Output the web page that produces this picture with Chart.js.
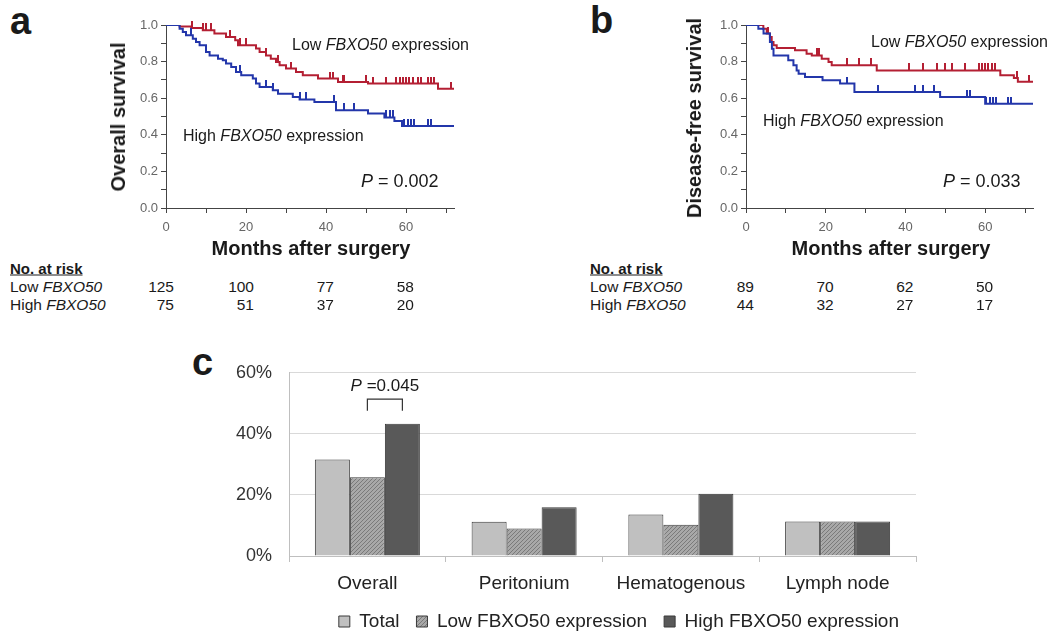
<!DOCTYPE html>
<html><head><meta charset="utf-8">
<script src="https://cdn.jsdelivr.net/npm/chart.js@4.4.1/dist/chart.umd.min.js"></script>
<style>
html,body{margin:0;padding:0;background:#fff;width:1058px;height:637px;overflow:hidden;font-family:'Liberation Sans',Arial,sans-serif;color:#1a1a1a;}
#wrap{position:relative;width:1058px;height:637px;}
.abs{position:absolute;white-space:nowrap;line-height:1;}
.rot{transform:translate(-50%,-50%) rotate(-90deg);}
.ctr{transform:translate(-50%,-50%);}
.vc{transform:translateY(-50%);}
canvas{position:absolute;}
</style></head><body>
<div id="wrap">
<canvas id="cA" width="370" height="230" style="left:100px;top:10px"></canvas>
<canvas id="cB" width="370" height="230" style="left:680px;top:10px"></canvas>
<canvas id="cC" width="700" height="300" style="left:230px;top:345px"></canvas>

<div class="abs" style="left:10px;top:2px;font-size:38px;font-weight:bold">a</div>
<div class="abs" style="left:590px;top:1px;font-size:38px;font-weight:bold">b</div>
<div class="abs" style="left:192px;top:343px;font-size:38px;font-weight:bold">c</div>

<div class="abs rot" style="left:118px;top:117px;font-size:20px;font-weight:bold">Overall survival</div>
<div class="abs rot" style="left:694px;top:118px;font-size:20px;font-weight:bold">Disease-free survival</div>
<div class="abs ctr" style="left:311px;top:248px;font-size:20px;font-weight:bold">Months after surgery</div>
<div class="abs ctr" style="left:891px;top:248px;font-size:20px;font-weight:bold">Months after surgery</div>

<div class="abs vc" style="left:292px;top:45px;font-size:16px">Low <i>FBXO50</i> expression</div>
<div class="abs vc" style="left:183px;top:136px;font-size:16px">High <i>FBXO50</i> expression</div>
<div class="abs vc" style="left:361px;top:181px;font-size:18px"><i>P</i> = 0.002</div>
<div class="abs vc" style="left:871px;top:42px;font-size:16px">Low <i>FBXO50</i> expression</div>
<div class="abs vc" style="left:763px;top:121px;font-size:16px">High <i>FBXO50</i> expression</div>
<div class="abs vc" style="left:943px;top:181px;font-size:18px"><i>P</i> = 0.033</div>

<div class="abs vc" style="left:10px;top:268px;font-size:15px;font-weight:bold;text-decoration:underline">No. at risk</div>
<div class="abs vc" style="left:10px;top:287px;font-size:15.5px">Low <i>FBXO50</i></div>
<div class="abs vc" style="left:10px;top:305px;font-size:15.5px">High <i>FBXO50</i></div>
<div class="abs vc" style="left:590px;top:268px;font-size:15px;font-weight:bold;text-decoration:underline">No. at risk</div>
<div class="abs vc" style="left:590px;top:287px;font-size:15.5px">Low <i>FBXO50</i></div>
<div class="abs vc" style="left:590px;top:305px;font-size:15.5px">High <i>FBXO50</i></div>
</div>
<script>
// ---------- Data: panel a (overall survival) ----------
const aLowT  = [0, 3.4, 6.3, 9.2, 12.1, 15, 17.3, 18, 22.5, 23.4, 25, 26.2, 27.5, 28.4, 30, 32.5, 34.2, 38, 43, 50.5, 68, 72];
const aLowS  = [1, 0.992, 0.984, 0.971, 0.953, 0.934, 0.916, 0.889, 0.871, 0.852, 0.834, 0.816, 0.798, 0.78, 0.762, 0.743, 0.725, 0.707, 0.689, 0.68, 0.652, 0.652];
const aLowCensor = [6.5, 9.2, 10, 11.3, 15.9, 18.4, 20, 25, 28, 31.3, 40.9, 41.7, 44.2, 44.6, 50, 51.7, 55, 57.5, 58.4, 59.2, 60, 60.8, 61.7, 63, 63.8, 65.5, 66.3, 67.1, 71.3];
const aHighT = [0, 3.4, 4.2, 5.0, 6.7, 7.5, 8.4, 10.0, 10.9, 13, 14.2, 15, 16.3, 17.5, 18.8, 21.7, 22.5, 23.4, 26.7, 28, 31.7, 33.4, 37.1, 42.5, 50.5, 54.6, 57.1, 59, 72];
const aHighS = [1, 0.98, 0.962, 0.944, 0.925, 0.907, 0.889, 0.852, 0.834, 0.816, 0.807, 0.789, 0.771, 0.743, 0.725, 0.707, 0.68, 0.661, 0.643, 0.625, 0.607, 0.593, 0.579, 0.534, 0.516, 0.495, 0.475, 0.448, 0.448];
const aHighCensor = [6.3, 18.4, 25, 26.7, 33.4, 35, 42, 44.6, 47.1, 55, 55.9, 56.7, 59.6, 60.5, 61.3, 62.1, 65.5, 66.3];

// ---------- Data: panel b (disease-free survival) ----------
const bLowT  = [0, 4.35, 5.2, 6.0, 6.45, 6.9, 7.7, 12.3, 15.2, 16.5, 19, 20.7, 21.5, 32.8, 63.8, 67.2, 68.2, 72];
const bLowS  = [1, 0.98, 0.953, 0.934, 0.907, 0.89, 0.875, 0.862, 0.843, 0.834, 0.816, 0.798, 0.78, 0.752, 0.725, 0.71, 0.69, 0.69];
const bLowCensor = [5.6, 17.8, 18.2, 25.3, 28.3, 31.3, 40.8, 44.5, 47.9, 50, 51.7, 55, 58.4, 59.2, 60, 60.8, 61.6, 62.5, 68, 70.9];
const bHighT = [0, 3.1, 4.4, 6.0, 6.5, 6.9, 10.6, 11.9, 12.7, 13.2, 14.8, 19.2, 23.6, 27.2, 48.7, 60, 72];
const bHighS = [1, 0.98, 0.953, 0.907, 0.87, 0.834, 0.807, 0.78, 0.752, 0.734, 0.716, 0.698, 0.68, 0.634, 0.607, 0.57, 0.57];
const bHighCensor = [25.3, 33.2, 42.5, 44.3, 47.2, 55.4, 56.3, 60.3, 61.1, 62, 62.8, 65.8, 66.6];

// ---------- Numbers at risk ----------
const riskMonths = [0, 20, 40, 60];
const riskALow  = [125, 100, 77, 58];
const riskAHigh = [75, 51, 37, 20];
const riskBLow  = [89, 70, 62, 50];
const riskBHigh = [44, 32, 27, 17];

// ---------- Data: panel c (recurrence) ----------
const categories = ['Overall', 'Peritonium', 'Hematogenous', 'Lymph node'];
const totalPct = [31.6, 11.2, 13.6, 11.3];
const lowPct   = [25.8, 9.0, 10.2, 11.3];
const highPct  = [43.3, 16.0, 20.4, 11.3];
const yTicksC  = [0, 20, 40, 60];

const RED = '#b41f33', BLUE = '#2336aa', AX = '#444';
Chart.defaults.font.family = "'Liberation Sans', Arial, sans-serif";
Chart.defaults.animation = false;
Chart.defaults.events = [];

function stepPts(t, s) { return t.map((m, i) => ({x: m, y: s[i]})); }
function survAt(t, s, m) { let v = s[0]; for (let i = 0; i < t.length; i++) { if (t[i] <= m) v = s[i]; } return v; }
function censorPts(t, s, c) { return c.map(m => ({x: m, y: survAt(t, s, m)})); }
function tickImg(color) {
  const c = document.createElement('canvas'); c.width = 2; c.height = 14;
  const g = c.getContext('2d'); g.fillStyle = color; g.fillRect(0, 0, 2, 7); return c;
}

function kmChart(id, lowT, lowS, lowC, highT, highS, highC, padRight) {
  return new Chart(document.getElementById(id), {
    type: 'scatter',
    data: { datasets: [
      {data: stepPts(highT, highS), showLine: true, stepped: true, borderColor: BLUE, borderWidth: 2, pointRadius: 0, fill: false},
      {data: censorPts(highT, highS, highC), showLine: false, pointStyle: tickImg(BLUE), pointRadius: 4, clip: false},
      {data: stepPts(lowT, lowS), showLine: true, stepped: true, borderColor: RED, borderWidth: 2, pointRadius: 0, fill: false},
      {data: censorPts(lowT, lowS, lowC), showLine: false, pointStyle: tickImg(RED), pointRadius: 4, clip: false}
    ]},
    options: {
      responsive: false,
      layout: {padding: {top: 15, right: padRight, bottom: 0, left: 0}},
      plugins: {legend: {display: false}, tooltip: {enabled: false}},
      scales: {
        x: {type: 'linear', min: 0, max: 72,
            afterFit(s) { s.height = 32; },
            border: {color: AX, width: 1},
            grid: {drawOnChartArea: false, drawTicks: true, tickLength: 5, color: AX},
            ticks: {stepSize: 10, includeBounds: false, autoSkip: false, maxRotation: 0, padding: 7, color: '#666', font: {size: 13},
                    callback: v => (Math.round(v) % 20 === 0 ? String(Math.round(v)) : '')}},
        y: {type: 'linear', min: 0, max: 1,
            afterFit(s) { s.width = 66; },
            border: {color: AX, width: 1},
            grid: {drawOnChartArea: false, drawTicks: true, tickLength: 5, color: AX},
            ticks: {stepSize: 0.1, autoSkip: false, padding: 3, color: '#666', font: {size: 13},
                    callback: v => { const k = Math.round(v * 10); return k % 2 === 0 ? (k / 10).toFixed(1) : ''; }}}
      }
    }
  });
}

const chartA = kmChart('cA', aLowT, aLowS, aLowCensor, aHighT, aHighS, aHighCensor, 16);
const chartB = kmChart('cB', bLowT, bLowS, bLowCensor, bHighT, bHighS, bHighCensor, 17);

function placeRisk(chart, values, y) {
  const left = chart.canvas.offsetLeft;
  riskMonths.forEach((m, i) => {
    const d = document.createElement('div');
    d.className = 'abs';
    d.style.fontSize = '15.5px';
    d.style.left = (left + chart.scales.x.getPixelForValue(m) + 8) + 'px';
    d.style.top = y + 'px';
    d.style.transform = 'translate(-100%,-50%)';
    d.textContent = values[i];
    document.getElementById('wrap').appendChild(d);
  });
}
placeRisk(chartA, riskALow, 287); placeRisk(chartA, riskAHigh, 305);
placeRisk(chartB, riskBLow, 287); placeRisk(chartB, riskBHigh, 305);

// hatched fill for the "low" series
function hatchPattern() {
  const c = document.createElement('canvas'); c.width = 4; c.height = 4;
  const g = c.getContext('2d');
  g.fillStyle = '#a8a8a8'; g.fillRect(0, 0, 4, 4);
  g.strokeStyle = '#7a7a7a'; g.lineWidth = 1;
  g.beginPath(); g.moveTo(0, 4); g.lineTo(4, 0); g.moveTo(-1, 1); g.lineTo(1, -1); g.moveTo(3, 5); g.lineTo(5, 3); g.stroke();
  return g.createPattern(c, 'repeat');
}

const pBracket = {
  id: 'pBracket',
  afterDatasetsDraw(chart) {
    const ctx = chart.ctx, y = chart.scales.y;
    const x1 = chart.getDatasetMeta(1).data[0].x, x2 = chart.getDatasetMeta(2).data[0].x;
    const top = y.getPixelForValue(51.4), bot = y.getPixelForValue(47.6);
    ctx.save();
    ctx.strokeStyle = '#333'; ctx.lineWidth = 1.2;
    ctx.beginPath(); ctx.moveTo(x1, bot); ctx.lineTo(x1, top); ctx.lineTo(x2, top); ctx.lineTo(x2, bot); ctx.stroke();
    const ty = y.getPixelForValue(55.6);
    ctx.fillStyle = '#1a1a1a'; ctx.textBaseline = 'middle';
    const fi = "italic 17px 'Liberation Sans', Arial", fn = "17px 'Liberation Sans', Arial";
    ctx.font = fi; const w1 = ctx.measureText('P').width;
    ctx.font = fn; const w2 = ctx.measureText(' =0.045').width;
    let sx = (x1 + x2) / 2 - (w1 + w2) / 2;
    ctx.font = fi; ctx.fillText('P', sx, ty);
    ctx.font = fn; ctx.fillText(' =0.045', sx + w1, ty);
    ctx.restore();
  }
};

new Chart(document.getElementById('cC'), {
  type: 'bar',
  data: {
    labels: categories,
    datasets: [
      {label: 'Total', data: totalPct, backgroundColor: '#c0c0c0', borderColor: '#3a3a3a', borderWidth: 1},
      {label: 'Low FBXO50 expression', data: lowPct, backgroundColor: hatchPattern(), borderColor: '#3a3a3a', borderWidth: 1},
      {label: 'High FBXO50 expression', data: highPct, backgroundColor: '#595959', borderColor: '#3a3a3a', borderWidth: 1}
    ]
  },
  options: {
    responsive: false,
    categoryPercentage: 0.67, barPercentage: 1.0,
    layout: {padding: {top: 22, right: 14, bottom: 4, left: 0}},
    plugins: {
      tooltip: {enabled: false},
      legend: {position: 'bottom', align: 'end',
               labels: {boxWidth: 11, boxHeight: 11, padding: 17, color: '#222', font: {size: 19}}}
    },
    scales: {
      x: {afterFit(s) { s.height = 39; },
          border: {color: '#bfbfbf'},
          grid: {drawOnChartArea: false, drawTicks: true, tickLength: 6, color: '#bfbfbf'},
          ticks: {color: '#222', font: {size: 19}, padding: 10, maxRotation: 0}},
      y: {min: 0, max: 60,
          afterFit(s) { s.width = 59; },
          border: {color: '#bfbfbf'},
          grid: {color: '#d9d9d9', drawTicks: false},
          afterBuildTicks(s) { s.ticks = yTicksC.map(v => ({value: v})); },
          ticks: {color: '#333', font: {size: 18}, padding: 17, callback: v => v + '%'}}
    }
  },
  plugins: [pBracket]
});
</script>
</body></html>
